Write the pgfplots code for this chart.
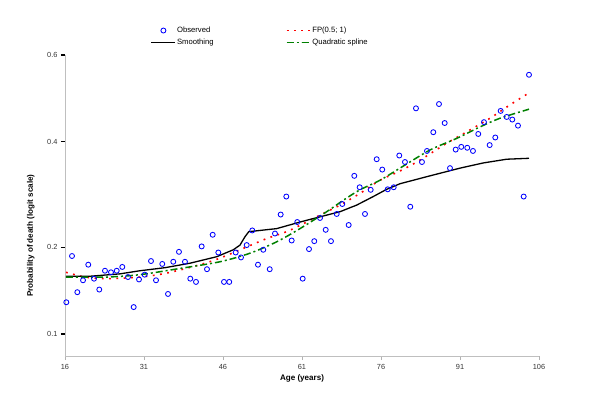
\documentclass[border=0pt]{standalone}
\usepackage{fontspec}
\setmainfont{Liberation Sans}
\usepackage{pgfplots}
\pgfplotsset{compat=1.18}
\usepackage{pgfplotstable}

\pgfplotstableread{
age p
16.25 0.130
17.33 0.187
18.34 0.141
19.42 0.155
20.42 0.175
21.51 0.157
22.51 0.144
23.59 0.167
24.73 0.165
25.82 0.167
26.88 0.172
27.96 0.159
29.04 0.125
30.05 0.156
31.13 0.162
32.33 0.180
33.28 0.155
34.47 0.176
35.56 0.139
36.56 0.179
37.64 0.193
38.78 0.179
39.79 0.157
40.87 0.153
41.95 0.201
42.96 0.169
44.04 0.219
45.11 0.192
46.19 0.153
47.19 0.153
48.41 0.192
49.42 0.185
50.50 0.203
51.56 0.226
52.64 0.175
53.65 0.196
54.87 0.169
55.87 0.221
56.95 0.253
58.02 0.286
59.04 0.210
60.10 0.240
61.13 0.157
62.33 0.197
63.33 0.209
64.42 0.247
65.50 0.227
66.50 0.209
67.59 0.254
68.65 0.272
69.86 0.235
70.93 0.327
71.95 0.304
72.96 0.254
74.04 0.299
75.18 0.362
76.24 0.340
77.27 0.300
78.41 0.304
79.47 0.370
80.55 0.356
81.56 0.267
82.64 0.477
83.78 0.356
84.73 0.380
85.93 0.422
87.01 0.487
88.09 0.443
89.10 0.343
90.18 0.383
91.24 0.389
92.38 0.387
93.46 0.380
94.47 0.418
95.55 0.445
96.63 0.393
97.70 0.410
98.72 0.471
99.86 0.457
100.93 0.451
102.01 0.437
103.09 0.286
104.10 0.555
}\observed

\pgfplotstableread{
age p
16.19 0.160
20.75 0.160
26.44 0.163
30.24 0.167
34.99 0.171
39.73 0.177
44.80 0.186
47.95 0.196
49.23 0.203
50.18 0.216
50.90 0.224
52.00 0.225
56.19 0.229
60.62 0.240
64.42 0.249
68.21 0.258
71.38 0.270
74.53 0.286
77.08 0.300
79.60 0.311
85.30 0.327
91.00 0.343
95.42 0.354
99.86 0.362
104.10 0.364
}\smoothing

\pgfplotstableread{
age p
16.19 0.165
19.80 0.159
23.92 0.157
30.24 0.159
35.31 0.164
41.63 0.175
45.43 0.184
49.85 0.198
54.30 0.213
58.09 0.224
61.89 0.240
65.04 0.255
68.21 0.270
72.01 0.292
75.81 0.318
79.60 0.337
83.40 0.360
88.47 0.397
92.89 0.427
96.69 0.454
100.49 0.485
104.10 0.513
}\fp

\pgfplotstableread{
age p
16.19 0.159
23.92 0.159
30.24 0.162
37.83 0.170
45.43 0.179
51.12 0.191
56.19 0.208
60.62 0.229
65.69 0.258
68.84 0.279
72.01 0.299
75.81 0.318
79.60 0.343
85.30 0.382
90.37 0.408
94.79 0.434
98.59 0.454
104.10 0.475
}\quadspline

\begin{document}
\begin{tikzpicture}
\useasboundingbox (-65bp,-50bp) rectangle (535bp,356bp);
\begin{axis}[
  at={(0,0)}, anchor=south west,
  scale only axis, width=474bp, height=301bp,
  xmin=16, xmax=106, ymin=-2.4024, ymax=0.405465,
  axis x line*=bottom, axis y line*=left,
  axis line style={draw=black!25, line width=0.8bp, -},
  xtick={16,31,46,61,76,91,106},
  xticklabels={16,31,46,61,76,91,106},
  ytick={-2.197225,-1.386294,-0.405465,0.405465},
  yticklabels={0.1,0.2,0.4,0.6},
  tick align=outside, major tick length=4bp,
  x tick style={draw=black!30, line width=0.6bp},
  y tick style={draw=black, line width=1.1bp},
  ticklabel style={font=\fontsize{7.4}{8}\selectfont, text=black!80},
  xticklabel style={yshift=-1bp},
  xlabel={Age (years)},
  ylabel={Probability of death (logit scale)},
  every axis x label/.style={at={(axis description cs:0.5,-0.076)}, anchor=center, font=\bfseries\fontsize{8.1}{9}\selectfont},
  every axis y label/.style={at={(axis description cs:-0.072,0.40)}, rotate=90, anchor=center, font=\bfseries\fontsize{8.1}{9}\selectfont},
  clip=false,
  legend columns=2,
  legend cell align=left,
  legend style={at={(axis description cs:0.1805,1.097)}, anchor=north west, draw=none, fill=none, inner sep=0pt, row sep=3bp, font=\fontsize{7.7}{9}\selectfont, nodes={inner sep=1bp}, /tikz/every even column/.append style={column sep=71bp}},
  legend image code/.code={\draw[mark repeat=2,mark phase=2,#1] plot coordinates {(0bp,0bp)(12bp,0bp)(24bp,0bp)};},
]
\addplot[only marks, mark=o, mark size=2.5bp, draw=blue, mark options={line width=0.85bp, draw=blue}]
  table[x=age, y expr={ln(\thisrow{p}/(1-\thisrow{p}))}] {\observed};
\addlegendentry{Observed}
\addplot[red, line width=1.6bp, dash pattern=on 1.8bp off 5.5bp, smooth]
  table[x=age, y expr={ln(\thisrow{p}/(1-\thisrow{p}))}] {\fp};
\addlegendentry{FP(0.5; 1)}
\addplot[black, line width=1.3bp]
  table[x=age, y expr={ln(\thisrow{p}/(1-\thisrow{p}))}] {\smoothing};
\addlegendentry{Smoothing}
\addplot[green!50!black, line width=1.5bp, dash pattern=on 7bp off 3bp on 2bp off 3bp, smooth]
  table[x=age, y expr={ln(\thisrow{p}/(1-\thisrow{p}))}] {\quadspline};
\addlegendentry{Quadratic spline}
\end{axis}
\end{tikzpicture}
\end{document}
